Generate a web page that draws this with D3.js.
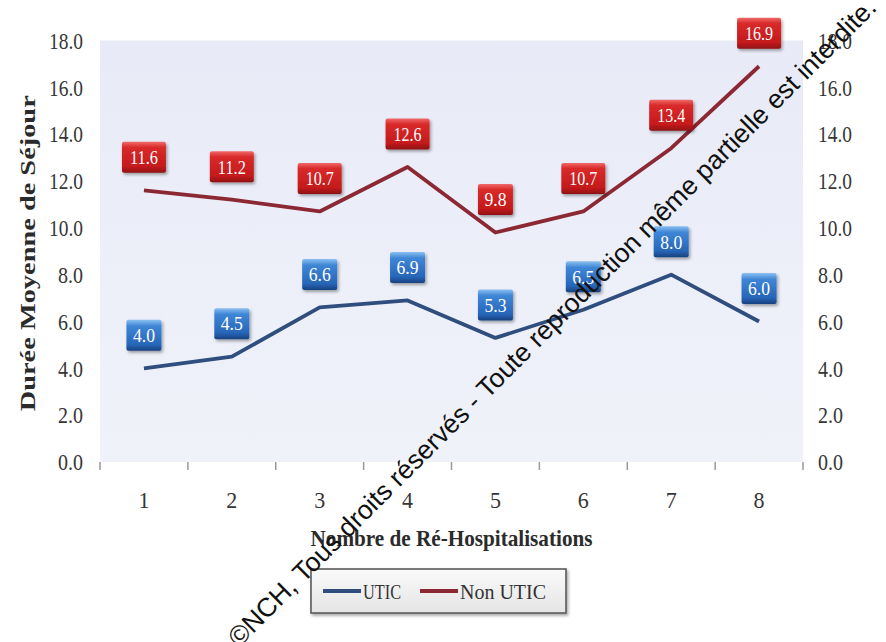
<!DOCTYPE html>
<html>
<head>
<meta charset="utf-8">
<script src="https://cdn.jsdelivr.net/npm/d3@7"></script>
<style>
  html, body { margin: 0; padding: 0; background: #ffffff; }
  svg { display: block; }
</style>
</head>
<body>
<svg id="chart" width="886" height="642"></svg>
<script>
// Average length of stay by number of re-hospitalisations
const categories = ["1", "2", "3", "4", "5", "6", "7", "8"];
const uticValues = [4.0, 4.5, 6.6, 6.9, 5.3, 6.5, 8.0, 6.0];
const nonUticValues = [11.6, 11.2, 10.7, 12.6, 9.8, 10.7, 13.4, 16.9];
const yTickValues = [0, 2, 4, 6, 8, 10, 12, 14, 16, 18];
const seriesNames = ["UTIC", "Non UTIC"];
const yTitle = "Durée Moyenne de Séjour";
const xTitle = "Nombre de Ré-Hospitalisations";
const notice = "©NCH, Tous droits réservés - Toute reproduction même partielle est interdite.";

const svg = d3.select("#chart");
const plot = { left: 100, right: 803, top: 40.5, bottom: 462 };
const serif = "'Liberation Serif', 'DejaVu Serif', serif";
const fmt = d3.format(".1f");

const x = d3.scaleBand().domain(categories).range([plot.left, plot.right]);
const y = d3.scaleLinear().domain([0, 18]).range([plot.bottom, plot.top]);
const cx = c => x(c) + x.bandwidth() / 2;

// ---------- defs ----------
const defs = svg.append("defs");
const bg = defs.append("linearGradient").attr("id", "plotBg")
  .attr("x1", 0).attr("y1", 0).attr("x2", 0).attr("y2", 1);
bg.append("stop").attr("offset", "0%").attr("stop-color", "#e8ebf7");
bg.append("stop").attr("offset", "100%").attr("stop-color", "#f0f2fa");

const redGrad = defs.append("linearGradient").attr("id", "redBox")
  .attr("x1", 0).attr("y1", 0).attr("x2", 0).attr("y2", 1);
redGrad.append("stop").attr("offset", "0%").attr("stop-color", "#f06a6a");
redGrad.append("stop").attr("offset", "18%").attr("stop-color", "#d92a2a");
redGrad.append("stop").attr("offset", "80%").attr("stop-color", "#c41a1c");
redGrad.append("stop").attr("offset", "100%").attr("stop-color", "#8e1014");

const blueGrad = defs.append("linearGradient").attr("id", "blueBox")
  .attr("x1", 0).attr("y1", 0).attr("x2", 0).attr("y2", 1);
blueGrad.append("stop").attr("offset", "0%").attr("stop-color", "#8cc0f0");
blueGrad.append("stop").attr("offset", "20%").attr("stop-color", "#3f86d6");
blueGrad.append("stop").attr("offset", "80%").attr("stop-color", "#2765b8");
blueGrad.append("stop").attr("offset", "100%").attr("stop-color", "#17427f");

const legendGrad = defs.append("linearGradient").attr("id", "legendBg")
  .attr("x1", 0).attr("y1", 0).attr("x2", 0).attr("y2", 1);
legendGrad.append("stop").attr("offset", "0%").attr("stop-color", "#fafafa");
legendGrad.append("stop").attr("offset", "100%").attr("stop-color", "#e4e4e4");

const shadow = defs.append("filter").attr("id", "shadow")
  .attr("x", "-20%").attr("y", "-20%").attr("width", "150%").attr("height", "150%");
shadow.append("feDropShadow").attr("dx", 1.5).attr("dy", 2).attr("stdDeviation", 1.5)
  .attr("flood-color", "#000").attr("flood-opacity", 0.35);

const soft = defs.append("filter").attr("id", "soft");
soft.append("feGaussianBlur").attr("stdDeviation", 0.5);

// ---------- plot area ----------
svg.append("rect")
  .attr("x", plot.left).attr("y", plot.top)
  .attr("width", plot.right - plot.left).attr("height", plot.bottom - plot.top)
  .attr("fill", "url(#plotBg)");

// horizontal gridlines, extending past both axes as tick marks
const grid = svg.append("g")
  .attr("transform", `translate(${plot.left - 7},0)`)
  .call(d3.axisRight(y).tickValues(yTickValues).tickFormat("")
    .tickSize(plot.right - plot.left + 14));
grid.select(".domain").remove();
grid.selectAll(".tick line").attr("stroke", "#9a9a9a").attr("stroke-width", 2)
  .attr("filter", "url(#soft)");

// vertical axis lines
[plot.left, plot.right].forEach(px => {
  svg.append("line").attr("x1", px).attr("x2", px)
    .attr("y1", plot.top).attr("y2", plot.bottom)
    .attr("stroke", "#a8a8a8").attr("stroke-width", 2).attr("filter", "url(#soft)");
});

// left value labels
const yLeft = svg.append("g")
  .attr("transform", `translate(${plot.left - 17},0)`)
  .call(d3.axisLeft(y).tickValues(yTickValues).tickFormat(fmt).tickSize(0).tickPadding(0));
yLeft.select(".domain").remove();
yLeft.selectAll("text")
  .attr("font-family", serif).attr("font-size", 23).attr("fill", "#363636")
  .attr("dy", "0.34em")
  .attr("textLength", d => fmt(d).length === 4 ? 34 : 25)
  .attr("lengthAdjust", "spacingAndGlyphs");

// right value labels
const yRight = svg.append("g")
  .attr("transform", `translate(${plot.right + 15},0)`)
  .call(d3.axisRight(y).tickValues(yTickValues).tickFormat(fmt).tickSize(0).tickPadding(0));
yRight.select(".domain").remove();
yRight.selectAll("text")
  .attr("font-family", serif).attr("font-size", 23).attr("fill", "#363636")
  .attr("dy", "0.34em")
  .attr("textLength", d => fmt(d).length === 4 ? 34 : 25)
  .attr("lengthAdjust", "spacingAndGlyphs");

// category axis: labels centred in each band
const xAxis = svg.append("g")
  .attr("transform", `translate(0,${plot.bottom})`)
  .call(d3.axisBottom(x).tickSize(0).tickPadding(30));
xAxis.select(".domain").remove();
xAxis.selectAll("text")
  .attr("font-family", serif).attr("font-size", 23).attr("fill", "#363636")
  .attr("textLength", 11).attr("lengthAdjust", "spacingAndGlyphs");

// band boundary tick marks
const boundaries = categories.map(c => x(c)).concat([x(categories[categories.length - 1]) + x.step()]);
svg.append("g").selectAll("line").data(boundaries).join("line")
  .attr("x1", d => d).attr("x2", d => d)
  .attr("y1", plot.bottom).attr("y2", plot.bottom + 8)
  .attr("stroke", "#9a9a9a").attr("stroke-width", 1.5);

// axis titles
svg.append("text")
  .attr("transform", `translate(35,${(plot.top + plot.bottom) / 2 + 2}) rotate(-90)`)
  .attr("text-anchor", "middle")
  .attr("font-family", serif).attr("font-weight", "bold").attr("font-size", 21)
  .attr("fill", "#2b2b2b")
  .attr("textLength", 316).attr("lengthAdjust", "spacingAndGlyphs")
  .text(yTitle);

svg.append("text")
  .attr("x", (plot.left + plot.right) / 2).attr("y", 546)
  .attr("text-anchor", "middle")
  .attr("font-family", serif).attr("font-weight", "bold").attr("font-size", 23)
  .attr("fill", "#2b2b2b")
  .attr("textLength", 282).attr("lengthAdjust", "spacingAndGlyphs")
  .text(xTitle);

// ---------- series lines ----------
const series = [
  { name: seriesNames[0], values: uticValues, color: "#2f4e7e", box: "url(#blueBox)" },
  { name: seriesNames[1], values: nonUticValues, color: "#8c2833", box: "url(#redBox)" }
];

const line = d3.line()
  .x((d, i) => cx(categories[i]))
  .y(d => y(d));

series.forEach(s => {
  svg.append("path")
    .datum(s.values)
    .attr("d", line)
    .attr("fill", "none")
    .attr("stroke", s.color)
    .attr("stroke-width", 3.8)
    .attr("stroke-linejoin", "round")
    .attr("stroke-linecap", "butt");
});

// ---------- value callouts ----------
series.forEach(s => {
  const g = svg.append("g");
  s.values.forEach((v, i) => {
    const label = fmt(v);
    const w = label.length === 4 ? 44 : 35;
    const h = 31;
    const bx = cx(categories[i]);
    const by = y(v) - 33;
    const cg = g.append("g").attr("transform", `translate(${bx},${by})`);
    cg.append("rect")
      .attr("x", -w / 2).attr("y", -h / 2).attr("width", w).attr("height", h)
      .attr("rx", 2)
      .attr("fill", s.box)
      .attr("filter", "url(#shadow)");
    cg.append("text")
      .attr("text-anchor", "middle").attr("dy", "0.36em")
      .attr("font-family", serif).attr("font-size", 19)
      .attr("fill", "#ffffff")
      .attr("textLength", label.length === 4 ? 28 : 22)
      .attr("lengthAdjust", "spacingAndGlyphs")
      .text(label);
  });
});

// ---------- legend ----------
const legend = svg.append("g");
legend.append("rect")
  .attr("x", 311).attr("y", 569).attr("width", 255).attr("height", 44)
  .attr("fill", "url(#legendBg)")
  .attr("stroke", "#5a5a5a").attr("stroke-width", 1.6)
  .attr("filter", "url(#shadow)");
const legendItems = [
  { x: 323, text: seriesNames[0], color: series[0].color, tw: 38 },
  { x: 420, text: seriesNames[1], color: series[1].color, tw: 86 }
];
legendItems.forEach(it => {
  legend.append("line")
    .attr("x1", it.x).attr("x2", it.x + 38)
    .attr("y1", 591).attr("y2", 591)
    .attr("stroke", it.color).attr("stroke-width", 4);
  legend.append("text")
    .attr("x", it.x + 40).attr("y", 591).attr("dy", "0.35em")
    .attr("font-family", serif).attr("font-size", 22).attr("fill", "#333")
    .attr("textLength", it.tw).attr("lengthAdjust", "spacingAndGlyphs")
    .text(it.text);
});

// ---------- copyright notice across the figure ----------
svg.append("text")
  .attr("transform", "translate(878,9) rotate(-45)")
  .attr("text-anchor", "end")
  .attr("font-family", "'Liberation Sans', Arial, sans-serif")
  .attr("font-size", 26.5)
  .attr("fill", "#111")
  .text(notice);
</script>
</body>
</html>
